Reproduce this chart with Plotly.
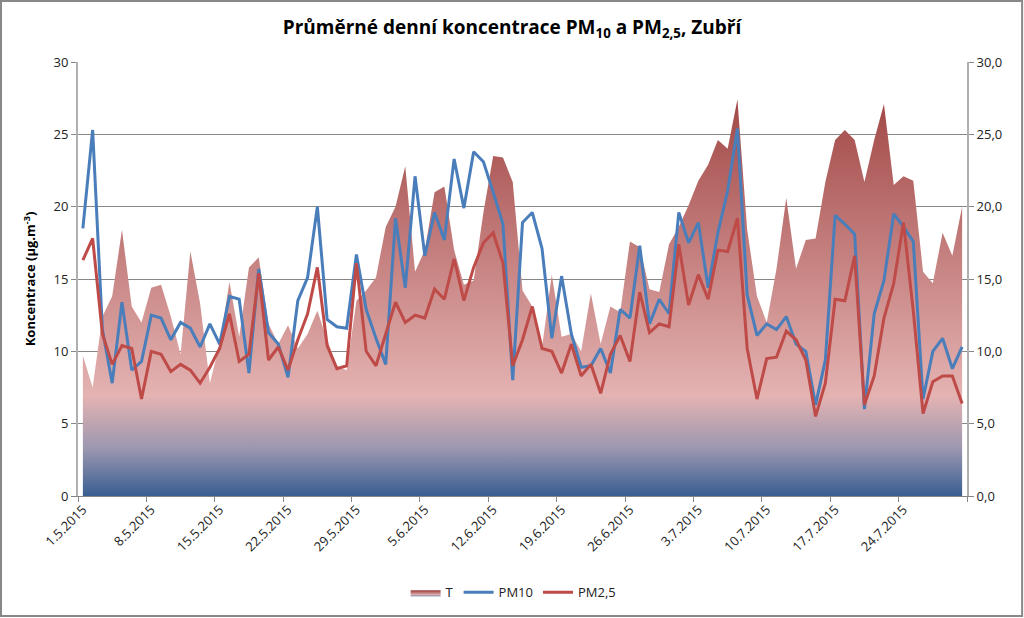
import pandas as pd
import plotly.graph_objects as go

# denni hodnoty 1.5.2015 - 30.7.2015
dates = pd.date_range("2015-05-01", "2015-07-30", freq="D")

T = [9.7, 7.5, 12.4, 13.8, 18.4, 13.1, 12.0, 14.4, 14.6, 12.4,
     9.8, 16.9, 13.3, 7.8, 10.5, 14.8, 11.0, 15.8, 16.5, 11.9,
     10.5, 11.8, 10.2, 11.2, 12.8, 10.8, 9.0, 8.7, 13.5, 14.2,
     15.1, 18.6, 20.0, 22.8, 15.5, 17.0, 21.0, 21.4, 17.0, 14.6,
     14.9, 19.6, 23.5, 23.4, 21.7, 14.2, 13.1, 10.3, 15.3, 11.0,
     11.2, 10.0, 14.0, 10.5, 13.1, 12.7, 17.6, 17.2, 14.3, 14.1,
     17.4, 18.6, 20.1, 21.8, 22.9, 24.6, 24.0, 27.4, 18.4, 13.8,
     12.0, 15.7, 20.6, 15.7, 17.7, 17.8, 21.7, 24.6, 25.3, 24.6,
     21.7, 24.6, 27.1, 21.5, 22.1, 21.8, 15.5, 14.7, 18.2, 16.6,
     20.0]

pm10 = [18.5, 25.3, 11.5, 7.8, 13.4, 8.7, 9.3, 12.5, 12.3, 10.8,
        12.0, 11.6, 10.3, 11.9, 10.5, 13.8, 13.6, 8.5, 15.7, 11.3,
        10.5, 8.2, 13.5, 15.1, 20.0, 12.2, 11.7, 11.6, 16.7, 12.9,
        10.9, 9.1, 19.2, 14.4, 22.1, 16.6, 19.6, 17.7, 23.3, 19.9,
        23.8, 23.1, 21.0, 18.8, 8.0, 18.9, 19.6, 17.1, 10.9, 15.2,
        11.2, 8.9, 9.0, 10.2, 8.5, 12.9, 12.3, 17.3, 11.9, 13.6,
        12.6, 19.6, 17.5, 18.9, 14.4, 18.2, 21.1, 25.4, 13.9, 11.1,
        11.9, 11.5, 12.4, 10.5, 10.0, 6.3, 9.4, 19.4, 18.8, 18.1,
        6.0, 12.6, 14.9, 19.5, 18.6, 17.6, 6.7, 10.0, 10.9, 8.8,
        10.3]

pm25 = [16.3, 17.8, 11.2, 9.1, 10.4, 10.2, 6.7, 10.0, 9.8, 8.6,
        9.1, 8.7, 7.8, 8.9, 10.2, 12.6, 9.3, 9.8, 15.4, 9.4,
        10.3, 8.7, 10.8, 12.6, 15.8, 10.4, 8.8, 9.0, 16.1, 10.0,
        9.0, 11.2, 13.4, 12.0, 12.5, 12.3, 14.3, 13.6, 16.4, 13.5,
        15.8, 17.5, 18.2, 16.1, 9.0, 10.8, 13.1, 10.2, 10.0, 8.5,
        10.5, 8.3, 9.1, 7.1, 9.8, 11.1, 9.3, 14.1, 11.3, 11.9,
        11.7, 17.4, 13.2, 15.3, 13.6, 17.0, 16.9, 19.2, 10.2, 6.7,
        9.5, 9.6, 11.4, 10.8, 9.4, 5.5, 7.8, 13.6, 13.5, 16.6,
        6.3, 8.3, 12.3, 14.7, 18.9, 12.8, 5.7, 7.9, 8.3, 8.3,
        6.4]

tick_dates = dates[::7]
tick_labels = [f"{d.day}.{d.month}.{d.year}" for d in tick_dates]

grid = "#868686"
font = "Open Sans"

fig = go.Figure()

fig.add_trace(go.Scatter(
    x=dates, y=T, name="T", yaxis="y",
    mode="lines", line=dict(width=0, color="#c0504d"),
    fill="tozeroy",
    fillgradient=dict(type="vertical", start=0, stop=30,
                      colorscale=[[0, "#395e91"], [0.11, "#9c97b0"],
                                  [0.23, "#e4b3b2"], [1, "#993b39"]]),
))
fig.add_trace(go.Scatter(x=dates, y=pm10, name="PM10", yaxis="y2",
                         mode="lines", line=dict(color="#4a7ebb", width=3)))
fig.add_trace(go.Scatter(x=dates, y=pm25, name="PM2,5", yaxis="y2",
                         mode="lines", line=dict(color="#be4b48", width=3)))

fig.update_layout(
    width=1024, height=618,
    margin=dict(l=78, r=57, t=62, b=122, autoexpand=False),
    paper_bgcolor="white", plot_bgcolor="white",
    separators=", ",
    font=dict(family=font, size=13, color="#222"),
    title=dict(text="<b>Průměrné denní koncentrace PM<sub>10</sub> a PM<sub>2,5</sub>, Zubří</b>",
               x=0.5, xanchor="center", y=0.955, yanchor="middle",
               font=dict(family=font, size=19, color="#000")),
    xaxis=dict(type="date", range=["2015-04-30 12:00", "2015-07-30 12:00"],
               tickvals=tick_dates, ticktext=tick_labels, tickangle=-45,
               ticks="", showgrid=False, showline=True, linecolor=grid,
               automargin=False,
               minor=dict(ticks="outside", ticklen=5, tickcolor=grid,
                          tick0="2015-04-30 12:00", dtick=7 * 86400000, showgrid=False),
               tickfont=dict(size=13)),
    yaxis=dict(range=[0, 30], dtick=5, tickformat=".1f", side="right",
               showgrid=True, gridcolor=grid, gridwidth=1, automargin=False,
               showline=True, linecolor="#b0b0b0", linewidth=2,
               ticks="outside", ticklen=5, tickcolor=grid, zeroline=False),
    yaxis2=dict(range=[0, 30], dtick=5, side="left", overlaying="y", automargin=False,
                showgrid=False, showline=True, linecolor="#b0b0b0", linewidth=2,
                ticks="outside", ticklen=5, tickcolor=grid, zeroline=False,
                title=dict(text="<b>Koncentrace (µg.m<sup>-3</sup>)</b>",
                           font=dict(size=13, color="#000"))),
    legend=dict(orientation="h", x=0.49, xanchor="center", y=-0.222, yanchor="middle",
                font=dict(size=13), traceorder="normal"),
    showlegend=True,
    shapes=[dict(type="rect", xref="paper", yref="paper", x0=-0.0866, x1=1.062,
                 y0=-0.2765, y1=1.1406, line=dict(color="#888", width=2))],
)

# okraj stranky pryc, at graf sedi na 0,0
fig.write_html("out.html", config={"displayModeBar": False},
               post_script="document.body.style.margin='0';")
